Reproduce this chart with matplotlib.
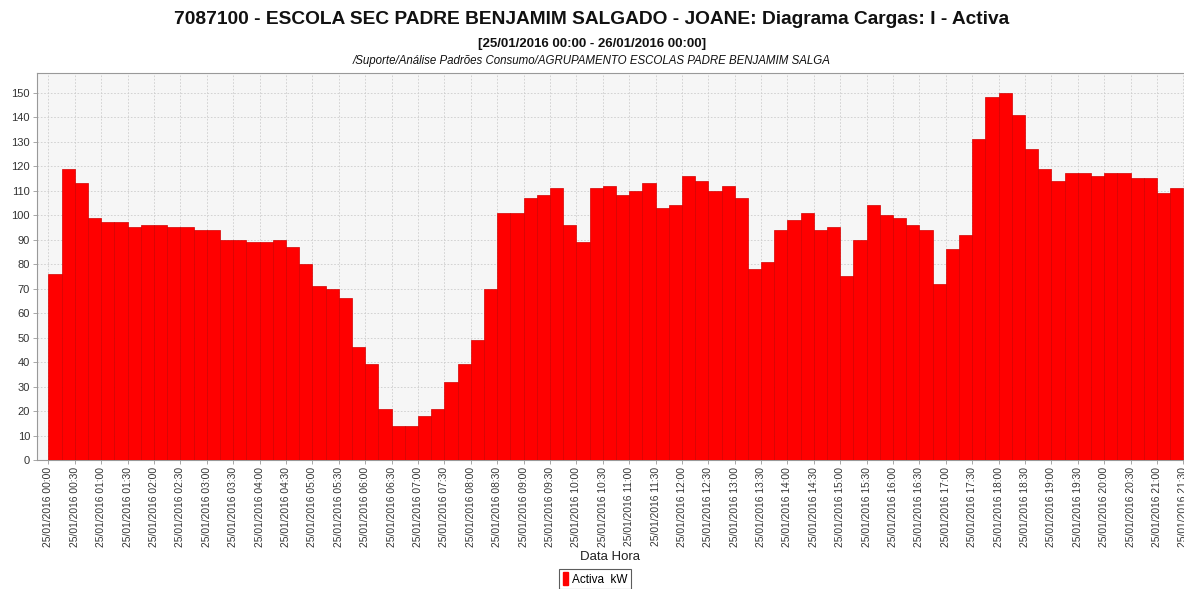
import matplotlib
matplotlib.use("Agg")
import matplotlib.pyplot as plt
from matplotlib.patches import Patch

plt.rcParams['font.family'] = ['Liberation Sans', 'DejaVu Sans']

# 15-minute readings of active power (kW) on 25/01/2016, from 00:00
activa_kw = [76, 119, 113, 99, 97, 97, 95, 96, 96, 95,
             95, 94, 94, 90, 90, 89, 89, 90, 87, 80,
             71, 70, 66, 46, 39, 21, 14, 14, 18, 21,
             32, 39, 49, 70, 101, 101, 107, 108, 111, 96,
             89, 111, 112, 108, 110, 113, 103, 104, 116, 114,
             110, 112, 107, 78, 81, 94, 98, 101, 94, 95,
             75, 90, 104, 100, 99, 96, 94, 72, 86, 92,
             131, 148, 150, 141, 127, 119, 114, 117, 117, 116,
             117, 117, 115, 115, 109, 111]

tick_labels = ["25/01/2016 %02d:%02d" % (h, m) for h in range(0, 22) for m in (0, 30)]
y_ticks = list(range(0, 151, 10))

title = "7087100 - ESCOLA SEC PADRE BENJAMIM SALGADO - JOANE: Diagrama Cargas: I - Activa"
subtitle1 = "[25/01/2016 00:00 - 26/01/2016 00:00]"
subtitle2 = "/Suporte/Análise Padrões Consumo/AGRUPAMENTO ESCOLAS PADRE BENJAMIM SALGA"

W, H = 1184, 589
fig = plt.figure(figsize=(W / 100, H / 100), dpi=100)
fig.patch.set_facecolor('white')

left, right, top, bottom = 37, 1184, 73, 460
ax = fig.add_axes([left / W, (H - bottom) / H, (right - left) / W, (bottom - top) / H])
ax.set_facecolor('#f6f6f6')

x = list(range(len(activa_kw)))
ax.bar(x, activa_kw, width=1.0, align='edge', color='#ff0000',
       edgecolor='#d40000', linewidth=0.5, zorder=3)

ax.set_xlim(-0.86, 86.04)
ax.set_ylim(0, 158)
ax.set_yticks(y_ticks)
ax.set_yticklabels([str(v) for v in y_ticks], fontsize=8, color='#333333')
tick_pos = [2 * i for i in range(len(tick_labels))]
ax.set_xticks(tick_pos)
ax.set_xticklabels(tick_labels, rotation=90, fontsize=7.4, color='#333333')

ax.grid(True, color='#cdcdcd', linestyle=(0, (2, 2)), linewidth=0.6, zorder=0)
for s in ['left', 'bottom', 'top']:
    ax.spines[s].set_color('#999999')
    ax.spines[s].set_linewidth(0.8)
ax.spines['right'].set_visible(False)
ax.tick_params(axis='both', length=3, width=0.6, color='#999999', pad=2)

ax.set_xlabel("Data Hora", fontsize=9.5, color='#222222', labelpad=3)

fig.text(0.5, 1 - 20 / H, title, ha='center', va='center', fontsize=13.8,
         fontweight='bold', color='#111111')
fig.text(0.5, 1 - 44 / H, subtitle1, ha='center', va='center', fontsize=9.5,
         fontweight='bold', color='#111111')
fig.text(0.5, 1 - 61 / H, subtitle2, ha='center', va='center', fontsize=8.3,
         style='italic', color='#111111')

handle = Patch(facecolor='#ff0000', edgecolor='#ff0000')
leg = fig.legend([handle], ["Activa  kW"], loc='center', bbox_to_anchor=(595 / W, 1 - 579 / H),
                 fontsize=8.5, frameon=True, fancybox=False, handlelength=0.5, handleheight=1.2,
                 handletextpad=0.3, borderpad=0.3, borderaxespad=0)
leg.get_frame().set_edgecolor('#333333')
leg.get_frame().set_linewidth(0.8)

fig.savefig("out.png", dpi=100)
